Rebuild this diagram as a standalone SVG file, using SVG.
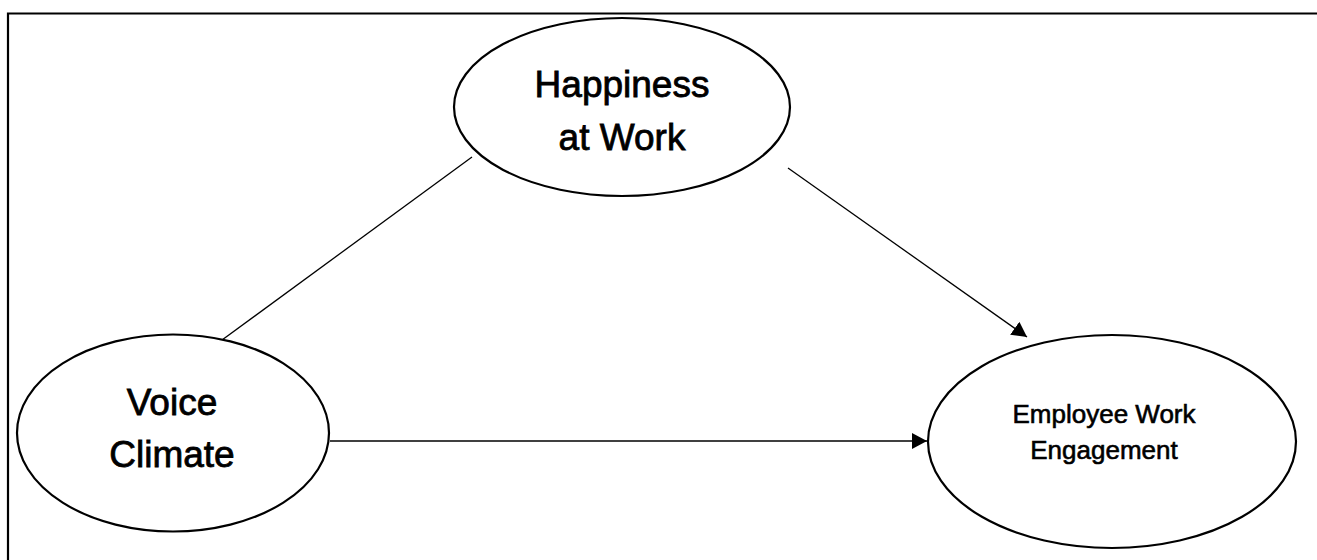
<svg xmlns="http://www.w3.org/2000/svg" width="1317" height="560" viewBox="0 0 1317 560">
  <defs>
    <style>
      .node { fill: #fff; stroke: #000; stroke-width: 2.2; }
      .lbl { font-family: "Liberation Sans", Arial, sans-serif; fill: #000; text-anchor: middle; stroke: #000; stroke-width: 0.8; }
      .big { font-size: 37px; }
      .small { font-size: 26px; stroke-width: 0.6; }
      .edge { stroke: #000; stroke-width: 1.3; fill: none; }
      .frame { stroke: #000; stroke-width: 2.2; fill: none; }
    </style>
    <marker id="arrow" viewBox="0 0 15 16" refX="15" refY="8" markerWidth="15" markerHeight="16" markerUnits="userSpaceOnUse" orient="auto">
      <path d="M0,0 L15,8 L0,16 Z" fill="#000"/>
    </marker>
  </defs>
  <rect width="1317" height="560" fill="#fff"/>
  <path class="frame" d="M8,561 L8,13.5 L1318,13.5"/>
  <g id="connectors">
    <line class="edge" x1="472" y1="157" x2="222" y2="340"/>
    <line class="edge" x1="788" y1="168" x2="1027" y2="337" marker-end="url(#arrow)"/>
    <line class="edge" x1="330" y1="441" x2="927" y2="441" marker-end="url(#arrow)"/>
  </g>
  <g id="happiness">
    <ellipse class="node" cx="622" cy="107" rx="168" ry="89"/>
    <text class="lbl big" x="622" y="97">Happiness</text>
    <text class="lbl big" x="622" y="150">at Work</text>
  </g>
  <g id="voice">
    <ellipse class="node" cx="173" cy="433" rx="156" ry="98.5"/>
    <text class="lbl big" x="172" y="415">Voice</text>
    <text class="lbl big" x="172" y="467">Climate</text>
  </g>
  <g id="engagement">
    <ellipse class="node" cx="1112" cy="441.5" rx="184" ry="106.5"/>
    <text class="lbl small" x="1104" y="423">Employee Work</text>
    <text class="lbl small" x="1104" y="459">Engagement</text>
  </g>
</svg>
